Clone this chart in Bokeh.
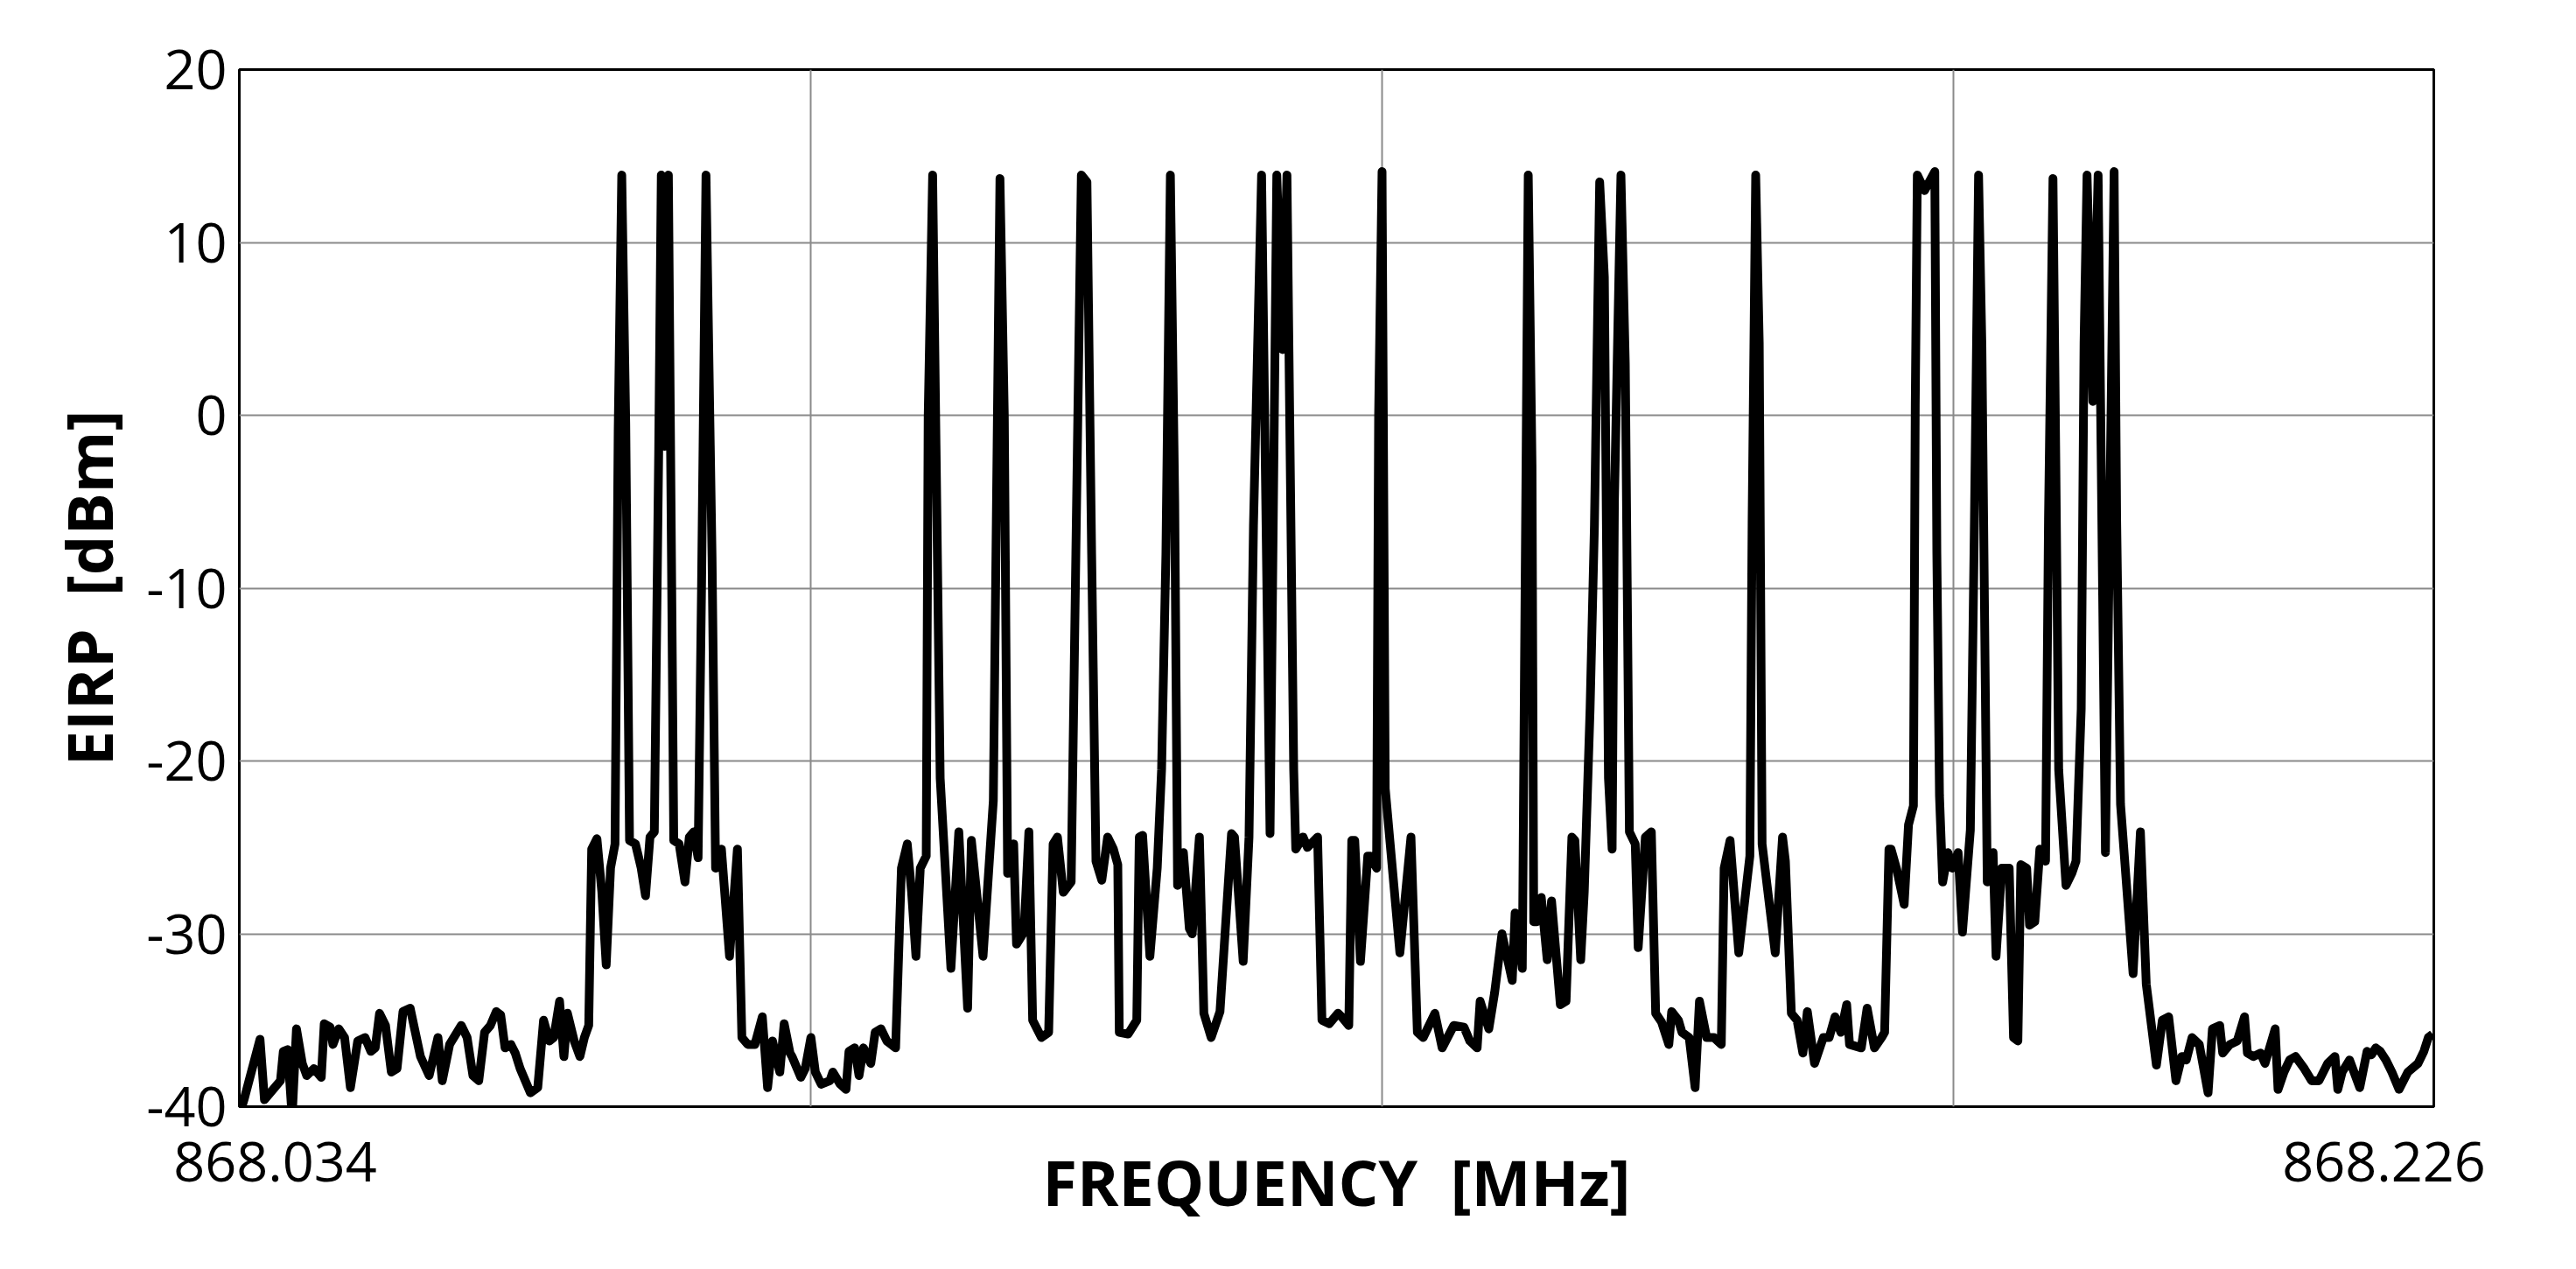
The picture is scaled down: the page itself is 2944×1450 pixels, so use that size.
from bokeh.plotting import figure
from bokeh.models import FixedTicker
from bokeh.embed import file_html
from bokeh.resources import INLINE

# ---- data ----
freq_mhz = [
    868.03400, 868.03441, 868.03581, 868.03620, 868.03709, 868.03760, 868.03785, 868.03823,
    868.03862, 868.03900, 868.03951, 868.03990, 868.04053, 868.04117, 868.04143, 868.04194,
    868.04219, 868.04270, 868.04321, 868.04372, 868.04436, 868.04500, 868.04551, 868.04589,
    868.04627, 868.04679, 868.04730, 868.04780, 868.04832, 868.04895, 868.04985, 868.05061,
    868.05138, 868.05176, 868.05240, 868.05342, 868.05393, 868.05444, 868.05495, 868.05546,
    868.05597, 868.05648, 868.05687, 868.05725, 868.05776, 868.05814,
    868.05857, 868.05947, 868.06011, 868.06062, 868.06112, 868.06151, 868.06202, 868.06240,
    868.06271, 868.06330, 868.06380, 868.06419, 868.06457, 868.06483, 868.06529, 868.06572,
    868.06610, 868.06648, 868.06687, 868.06715, 868.06746, 868.06781, 868.06814, 868.06866,
    868.06916, 868.06954, 868.06993, 868.07031, 868.07069, 868.07092, 868.07123, 868.07154,
    868.07201, 868.07248, 868.07299, 868.07337, 868.07376, 868.07414, 868.07444, 868.07483,
    868.07536, 868.07567, 868.07618, 868.07689, 868.07758, 868.07797, 868.07848, 868.07911,
    868.07976, 868.08022, 868.08065, 868.08129, 868.08167, 868.08218,
    868.08236, 868.08313, 868.08351, 868.08401, 868.08440, 868.08491, 868.08567, 868.08593,
    868.08657, 868.08708, 868.08734, 868.08784, 868.08822, 868.08861, 868.08925, 868.08963,
    868.09014, 868.09065, 868.09142, 868.09193, 868.09244, 868.09282, 868.09320, 868.09358,
    868.09410, 868.09427, 868.09466, 868.09532, 868.09626, 868.09695, 868.09772, 868.09805,
    868.09907, 868.09997, 868.10055, 868.10093, 868.10122, 868.10175, 868.10200, 868.10265,
    868.10308, 868.10341, 868.10418, 868.10481, 868.10520, 868.10558, 868.10609,
    868.10678, 868.10719, 868.10767, 868.10816, 868.10857, 868.10895, 868.10946, 868.10997,
    868.11048, 868.11086, 868.11099, 868.11176, 868.11252, 868.11274, 868.11303, 868.11367,
    868.11431, 868.11469, 868.11507, 868.11546, 868.11584, 868.11609, 868.11660, 868.11712,
    868.11737, 868.11800, 868.11839, 868.11903, 868.11980, 868.12081, 868.12107, 868.12183,
    868.12234, 868.12273, 868.12344, 868.12418, 868.12477, 868.12528, 868.12566, 868.12625,
    868.12643, 868.12707, 868.12745, 868.12834, 868.12872, 868.12936, 868.13013,
    868.13044, 868.13107, 868.13133, 868.13159, 868.13209, 868.13273, 868.13299, 868.13350,
    868.13368, 868.13398, 868.13426, 868.13554, 868.13651, 868.13707, 868.13758, 868.13860,
    868.13924, 868.14026, 868.14115, 868.14166, 868.14230, 868.14256, 868.14332, 868.14383,
    868.14447, 868.14537, 868.14562, 868.14625, 868.14644, 868.14677, 868.14710, 868.14725,
    868.14753, 868.14791, 868.14843, 868.14881, 868.14958, 868.15008, 868.15059, 868.15085,
    868.15136, 868.15167, 868.15218, 868.15256, 868.15302, 868.15343, 868.15379, 868.15411,
    868.15431, 868.15488, 868.15526, 868.15562, 868.15613, 868.15639, 868.15702, 868.15754,
    868.15792, 868.15843, 868.15907, 868.15932, 868.15991, 868.16022, 868.16085, 868.16137,
    868.16175, 868.16238, 868.16302, 868.16366, 868.16391, 868.16443, 868.16519, 868.16616,
    868.16636, 868.16667, 868.16698, 868.16723, 868.16838, 868.16902, 868.16927, 868.16979,
    868.17029, 868.17080, 868.17119, 868.17182, 868.17259, 868.17310, 868.17361, 868.17412,
    868.17463, 868.17488, 868.17591, 868.17642, 868.17706, 868.17769, 868.17795, 868.17833,
    868.17851, 868.17902, 868.17966, 868.18004, 868.18047, 868.18063, 868.18081, 868.18145,
    868.18177, 868.18234, 868.18252, 868.18275, 868.18303, 868.18349, 868.18387, 868.18438,
    868.18476, 868.18545, 868.18581, 868.18617, 868.18646, 868.18693, 868.18744, 868.18770,
    868.18820, 868.18885, 868.18923, 868.18961, 868.18987, 868.19038, 868.19063, 868.19109,
    868.19153, 868.19203, 868.19229, 868.19268, 868.19293, 868.19318, 868.19382, 868.19433,
    868.19469, 868.19515, 868.19540, 868.19566, 868.19617, 868.19663, 868.19727, 868.19803,
    868.19825, 868.19859, 868.19969, 868.20033, 868.20084, 868.20173, 868.20225,
    868.20280, 868.20344, 868.20395, 868.20434, 868.20485, 868.20548, 868.20625, 868.20663,
    868.20727, 868.20753, 868.20816, 868.20880, 868.20944, 868.20969, 868.21021, 868.21084,
    868.21123, 868.21212, 868.21237, 868.21289, 868.21339, 868.21390, 868.21467, 868.21531,
    868.21595, 868.21671, 868.21735, 868.21760, 868.21798, 868.21863, 868.21952, 868.22016,
    868.22054, 868.22092, 868.22131, 868.22181, 868.22233, 868.22296, 868.22373, 868.22462,
    868.22513, 868.22552, 868.22590,
]

eirp_dbm = [
    -40.5, -39.6, -36.1, -39.6, -38.9, -38.5, -36.8, -36.7,
    -40.6, -35.5, -37.5, -38.2, -37.8, -38.3, -35.2, -35.4,
    -36.4, -35.5, -36.0, -38.9, -36.2, -36.0, -36.8, -36.6,
    -34.6, -35.3, -38.0, -37.8, -34.5, -34.3, -37.1, -38.2,
    -36.0, -38.5, -36.4, -35.3, -36.0, -38.2, -38.5, -35.7,
    -35.3, -34.5, -34.7, -36.6, -36.4, -36.9,
    -37.8, -39.2, -38.9, -35.0, -36.2, -36.0, -33.9, -37.1,
    -34.6, -36.2, -37.1, -36.0, -35.3, -25.1, -24.5, -27.6,
    -31.8, -26.2, -24.8, -0.8, 13.9, -0.5, -24.6, -24.8,
    -26.2, -27.8, -24.4, -24.1, -2.2, 13.9, -1.8, 13.9,
    -24.6, -24.8, -27.0, -24.4, -24.1, -25.6, -10.0, 13.9,
    -8.2, -26.2, -25.1, -31.3, -25.1, -36.0, -36.4, -36.4,
    -34.8, -38.9, -36.2, -38.0, -35.2, -36.9,
    -37.1, -38.3, -37.8, -36.0, -38.0, -38.7, -38.5, -38.0,
    -38.7, -39.0, -36.8, -36.6, -38.2, -36.6, -37.5, -35.7,
    -35.5, -36.2, -36.6, -26.2, -24.8, -27.6, -31.3, -26.2,
    -25.5, -0.1, 13.9, -21.0, -32.0, -24.1, -34.3, -24.6,
    -31.3, -22.3, 13.7, 0.0, -26.5, -24.8, -30.6, -29.9,
    -24.1, -35.0, -36.0, -35.7, -24.8, -24.4, -27.6,
    -27.0, -8.0, 13.9, 13.5, -8.0, -25.8, -26.9, -24.4,
    -25.1, -26.0, -35.7, -35.8, -35.0, -24.4, -24.3, -31.3,
    -26.2, -20.5, -8.0, 13.9, -5.0, -27.2, -25.3, -29.7,
    -30.0, -24.4, -34.6, -36.0, -34.5, -24.2, -24.4, -31.6,
    -24.4, -6.4, 13.9, -24.2, 13.9, 3.8, 13.9, -20.5,
    -25.1, -24.4, -25.0, -24.4, -35.0, -35.2, -34.6,
    -34.8, -35.3, -24.6, -24.6, -31.6, -25.5, -25.5, -26.2,
    0.0, 14.1, -21.6, -31.1, -24.4, -35.7, -36.0, -34.6,
    -36.6, -35.3, -35.4, -36.2, -36.6, -33.9, -35.5, -33.4,
    -30.0, -32.7, -28.8, -32.0, -15.0, 13.9, -2.9, -29.3,
    -29.3, -27.9, -31.5, -28.1, -34.1, -33.9, -24.4, -24.6,
    -31.5, -27.6, -17.0, -6.4, 13.5, 8.0, -21.0, -25.1,
    -5.0, 13.9, 3.0, -24.1, -24.8, -30.8, -24.4, -24.1,
    -34.6, -35.1, -36.4, -34.5, -35.0, -35.7, -36.0, -38.9,
    -33.9, -36.0, -36.0, -36.4, -26.2, -24.6, -31.1, -25.5,
    -6.0, 13.9, 4.2, -24.8, -31.1, -24.4, -25.8, -34.6,
    -35.0, -36.9, -34.5, -37.5, -36.0, -36.0, -34.8, -35.7,
    -34.1, -36.4, -36.6, -34.3, -36.6, -36.0, -35.7, -25.1,
    -25.1, -26.3, -28.3, -23.7, -22.6, 0.6, 13.9, 13.0,
    13.4, 14.1, -8.0, -22.0, -27.0, -25.3, -26.2, -25.3,
    -29.9, -24.0, -6.0, 13.9, 4.0, -27.0, -25.3, -31.3,
    -26.2, -26.2, -36.0, -36.2, -26.0, -26.2, -29.5, -29.3,
    -25.1, -25.8, -6.0, 13.7, -2.9, -20.5, -27.2, -26.5,
    -25.8, -17.0, 4.2, 13.9, 0.8, 13.9, -25.3, 14.1,
    -6.0, -22.5, -32.3, -24.1, -32.9, -37.6, -35.0,
    -34.8, -38.5, -37.1, -37.3, -36.0, -36.4, -39.2, -35.5,
    -35.3, -36.9, -36.4, -36.2, -34.8, -36.9, -37.1, -36.9,
    -37.5, -35.5, -39.0, -38.0, -37.3, -37.1, -37.8, -38.5,
    -38.5, -37.5, -37.1, -39.0, -38.0, -37.3, -38.9, -36.8,
    -37.0, -36.6, -36.8, -37.3, -38.0, -39.0, -38.0, -37.5,
    -36.8, -36.0, -35.8,
]

y_ticks = [-40, -30, -20, -10, 0, 10, 20]
y_tick_labels = ["-40", "-30", "-20", "-10", "0", "10", "20"]
x_grid_mhz = [868.084, 868.134, 868.184]
x_label_pos = [868.03714, 868.22164]
x_tick_labels = ["868.034", "868.226"]
x_start, x_end = 868.034, 868.226
y_start, y_end = -40, 20

p = figure(frame_width=2508, frame_height=1185,
           x_range=(x_start, x_end), y_range=(y_start, y_end),
           output_backend="svg", toolbar_location=None,
           min_border_left=273, min_border_right=147, min_border_top=79, min_border_bottom=170)
p.background_fill_color = "white"
p.border_fill_color = "white"
p.outline_line_color = "black"
p.outline_line_width = 3
p.outline_line_alpha = 1.0

# grids
p.xgrid.ticker = FixedTicker(ticks=x_grid_mhz)
p.ygrid.ticker = FixedTicker(ticks=y_ticks)
for g in (p.xgrid, p.ygrid):
    g.grid_line_color = "#8a8a8a"
    g.grid_line_width = 2

# axes
p.yaxis.ticker = FixedTicker(ticks=y_ticks)
p.yaxis.major_label_overrides = {t: s for t, s in zip(y_ticks, y_tick_labels)}
p.xaxis.ticker = FixedTicker(ticks=x_label_pos)
p.xaxis.major_label_overrides = {t: s for t, s in zip(x_label_pos, x_tick_labels)}
for ax in (p.xaxis, p.yaxis):
    ax.axis_line_color = None
    ax.major_tick_line_color = None
    ax.minor_tick_line_color = None
    ax.major_tick_in = 0
    ax.major_tick_out = 0
    ax.major_label_text_font = "Open Sans"
    ax.major_label_text_font_size = "63px"
    ax.major_label_text_color = "black"
    ax.axis_label_text_font = "Open Sans"
    ax.axis_label_text_font_style = "bold"
    ax.axis_label_text_font_size = "72px"
    ax.axis_label_text_color = "black"
p.xaxis.major_label_standoff = 40
p.yaxis.major_label_standoff = 14

p.yaxis.axis_label = "EIRP \u00a0[dBm]"
p.yaxis.axis_label_standoff = 14
p.xaxis.axis_label = "FREQUENCY \u00a0[MHz]"
p.xaxis.axis_label_standoff = -52

p.line(freq_mhz, eirp_dbm, line_width=10, line_color="black", line_join="round")

open("out.html", "w").write(file_html(p, INLINE))
